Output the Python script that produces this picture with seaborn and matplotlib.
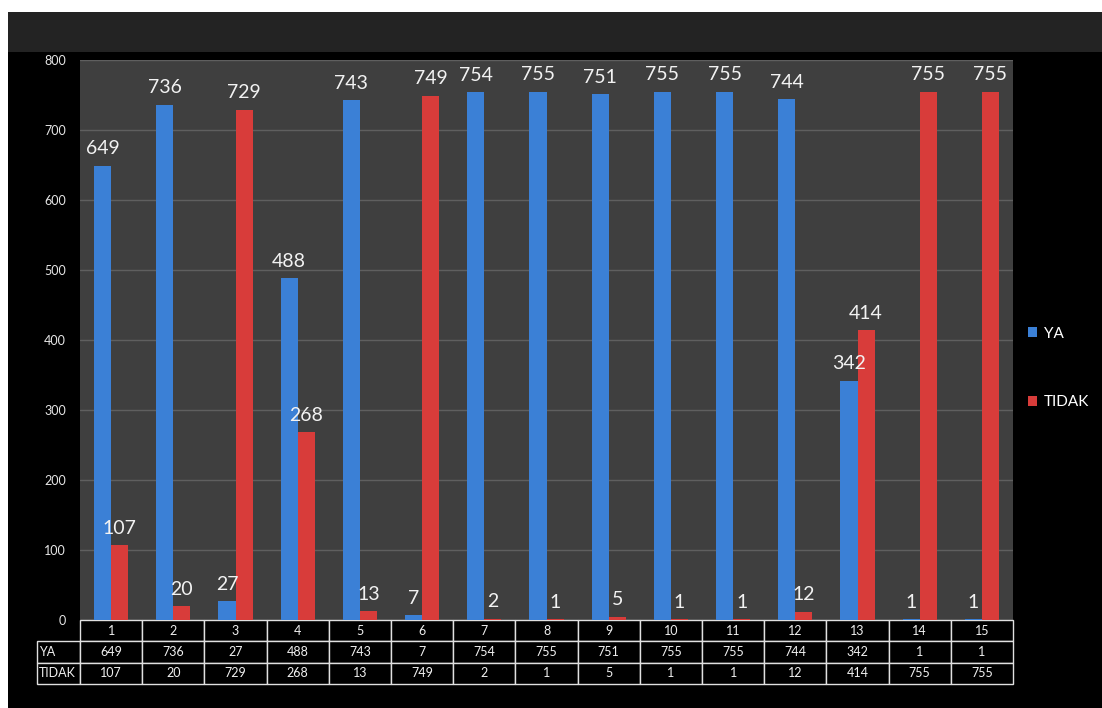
import pandas as pd
import numpy as np
import seaborn as sns
import matplotlib.pyplot as plt
from matplotlib.patches import Rectangle, Patch

# Data
groups = [str(i) for i in range(1, 16)]
ya = [649, 736, 27, 488, 743, 7, 754, 755, 751, 755, 755, 744, 342, 1, 1]
tidak = [107, 20, 729, 268, 13, 749, 2, 1, 5, 1, 1, 12, 414, 755, 755]
series = ['YA', 'TIDAK']

df = pd.DataFrame({
    'grp': groups * 2,
    'val': ya + tidak,
    'kind': ['YA'] * len(ya) + ['TIDAK'] * len(tidak),
})

blue = '#3b80d6'
red = '#d83c3a'

sns.set_style('dark')
plt.rcParams['font.family'] = ['Lato', 'DejaVu Sans']

fig = plt.figure(figsize=(11.02, 7.08), dpi=100)
fig.patch.set_facecolor('white')

# background blocks: black body, dark band on top
W, H = 1102, 708
fig.patches.append(Rectangle((8 / W, 0), 1, 696 / H, transform=fig.transFigure,
                             facecolor='black', edgecolor='none', zorder=-10))
fig.patches.append(Rectangle((8 / W, 656 / H), 1, 40 / H, transform=fig.transFigure,
                             facecolor='#232323', edgecolor='none', zorder=-9))

ax = fig.add_axes([80 / W, 1 - 620 / H, 933 / W, 560 / H])
ax.set_facecolor('#3f3f3f')

sns.barplot(data=df, x='grp', y='val', hue='kind', hue_order=series,
            palette=[blue, red], width=0.55, gap=0, saturation=1,
            linewidth=0, edgecolor='none', ax=ax, legend=False)

for c in ax.containers:
    ax.bar_label(c, padding=6, fontsize=14, color='#f2f2f2')

ax.set_ylim(0, 800)
ax.set_yticks(range(0, 801, 100))
ax.tick_params(axis='y', colors='#e6e6e6', labelsize=9, length=0, pad=10)
ax.grid(axis='y', color='#5f5f5f', linewidth=1)
ax.set_axisbelow(True)
ax.set_xticks([])
ax.set_xlabel('')
ax.set_ylabel('')
for s in ax.spines.values():
    s.set_visible(False)

# data table under the bars
rows = [[''] + groups,
        ['YA'] + [str(v) for v in ya],
        ['TIDAK'] + [str(v) for v in tidak]]
lab_w = 43 / 933
tbl = ax.table(cellText=rows, colWidths=[lab_w] + [1 / 15] * 15,
               bbox=[-lab_w, -64 / 560, 1 + lab_w, 64 / 560], cellLoc='center')
tbl.auto_set_font_size(False)
tbl.set_fontsize(9)
for (r, c), cell in tbl.get_celld().items():
    cell.set_facecolor('black')
    cell.set_edgecolor('#e0e0e0')
    cell.set_linewidth(1)
    cell.get_text().set_color('#f0f0f0')
    if c == 0:
        cell.get_text().set_ha('left')
        cell.PAD = 0.05
    if r == 0 and c == 0:
        cell.visible_edges = ''

# legend on the right
handles = [Patch(facecolor=blue, edgecolor='none', label='YA'),
           Patch(facecolor=red, edgecolor='none', label='TIDAK')]
leg = ax.legend(handles=handles, loc='center left', bbox_to_anchor=(1.0, 0.45),
                frameon=False, fontsize=11, labelcolor='white',
                handlelength=0.6, handleheight=0.6, handletextpad=0.4,
                labelspacing=3.6, borderaxespad=0.6)

fig.savefig('out.png', dpi=100, facecolor=fig.get_facecolor())
